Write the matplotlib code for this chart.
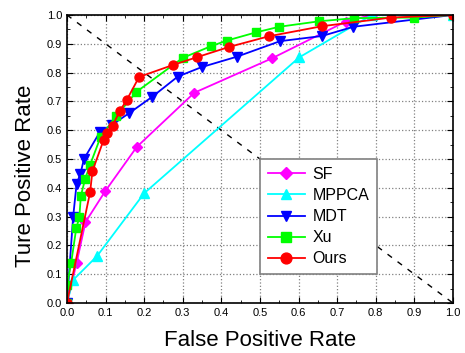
import numpy as np
import matplotlib.pyplot as plt
from matplotlib.ticker import MultipleLocator

plt.rcParams['font.family'] = ['Liberation Sans', 'DejaVu Sans']

# ROC curves
sf_x = [0.0, 0.025, 0.048, 0.099, 0.181, 0.33, 0.532, 0.722, 0.79, 1.0]
sf_y = [0.0, 0.139, 0.281, 0.388, 0.542, 0.73, 0.85, 0.977, 1.0, 1.0]

mppca_x = [0.0, 0.016, 0.078, 0.2, 0.602, 0.79, 1.0]
mppca_y = [0.0, 0.08, 0.163, 0.381, 0.853, 1.0, 1.0]

mdt_x = [0.0, 0.016, 0.025, 0.035, 0.044, 0.085, 0.116, 0.161, 0.221, 0.287,
         0.349, 0.44, 0.552, 0.661, 0.742, 1.0]
mdt_y = [0.0, 0.299, 0.414, 0.449, 0.5, 0.593, 0.618, 0.659, 0.716, 0.786,
         0.819, 0.855, 0.909, 0.927, 0.959, 1.0]

xu_x = [0.0, 0.0, 0.011, 0.024, 0.032, 0.036, 0.047, 0.06, 0.087, 0.127, 0.18,
        0.3, 0.372, 0.414, 0.491, 0.55, 0.653, 0.744, 0.9, 1.0]
xu_y = [0.0, 0.061, 0.14, 0.259, 0.297, 0.372, 0.43, 0.48, 0.576, 0.648, 0.733,
        0.851, 0.891, 0.911, 0.94, 0.959, 0.978, 0.989, 0.991, 1.0]

ours_x = [0.0, 0.06, 0.066, 0.095, 0.105, 0.118, 0.137, 0.155, 0.187, 0.276,
          0.336, 0.42, 0.523, 0.661, 0.84, 1.0]
ours_y = [0.0, 0.385, 0.458, 0.566, 0.59, 0.615, 0.667, 0.705, 0.785, 0.827,
          0.853, 0.889, 0.926, 0.961, 0.991, 1.0]

fig = plt.figure(figsize=(4.65, 3.53), dpi=100)
ax = fig.add_axes([0.144, 0.1416, 0.83, 0.816])

# diagonal reference line
ax.plot([0, 1], [1, 0], color="black", linestyle=(0, (4, 5)), linewidth=1)

ms = 6.5
ax.plot(sf_x, sf_y, color="#ff00ff", marker="D", markersize=5.5, lw=1.3, label="SF")
ax.plot(mppca_x, mppca_y, color="#00ffff", marker="^", markersize=ms, lw=1.3, label="MPPCA")
ax.plot(mdt_x, mdt_y, color="#0000ff", marker="v", markersize=ms, lw=1.3, label="MDT")
ax.plot(xu_x, xu_y, color="#00ff00", marker="s", markersize=5.5, lw=1.3, label="Xu")
ax.plot(ours_x, ours_y, color="#ff0000", marker="o", markersize=ms, lw=1.3, label="Ours")

ax.set_xlim(0, 1)
ax.set_ylim(0, 1)
ax.xaxis.set_major_locator(MultipleLocator(0.1))
ax.yaxis.set_major_locator(MultipleLocator(0.1))
ax.xaxis.set_minor_locator(MultipleLocator(0.05))
ax.yaxis.set_minor_locator(MultipleLocator(0.05))
ax.xaxis.set_major_formatter(plt.FormatStrFormatter("%.1f"))
ax.yaxis.set_major_formatter(plt.FormatStrFormatter("%.1f"))
ax.tick_params(which="both", direction="in", top=True, right=True, labelsize=8)
ax.tick_params(which="major", length=4)
ax.tick_params(which="minor", length=2)
ax.grid(True, linestyle=":", color="gray", linewidth=0.9)
for s in ax.spines.values():
    s.set_linewidth(1.2)

ax.set_xlabel("False Positive Rate", fontsize=16)
ax.set_ylabel("Ture Positive Rate", fontsize=16)
ax.xaxis.set_label_coords(0.5, -0.094)
ax.yaxis.set_label_coords(-0.08, 0.441)

leg = ax.legend(loc="upper left", bbox_to_anchor=(0.5, 0.5), borderaxespad=0,
                fontsize=11.5, fancybox=False, framealpha=1, markerscale=1.2,
                edgecolor="gray", handlelength=2.3, handletextpad=0.5,
                borderpad=0.5, labelspacing=0.38)
leg.get_frame().set_linewidth(1.2)

fig.savefig("out.png", dpi=100)
